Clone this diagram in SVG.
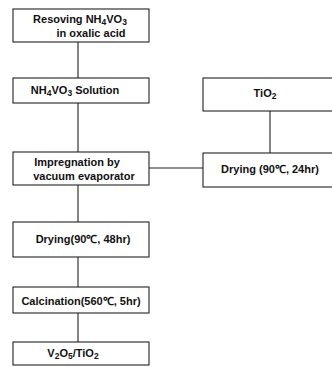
<svg xmlns="http://www.w3.org/2000/svg" width="332" height="367" viewBox="0 0 332 367">
<style>
.box{fill:#fff;stroke:#222;stroke-width:1.1}
.ln{stroke:#222;stroke-width:1.1;fill:none}
text{font-family:"Liberation Sans",Arial,sans-serif;font-weight:bold;font-size:11px;fill:#111;text-anchor:middle}
.sub{font-size:8.5px}
</style>
<rect width="332" height="367" fill="#fff"/>
<g id="connectors">
<line class="ln" x1="78" y1="42" x2="78" y2="78"/>
<line class="ln" x1="78" y1="103" x2="78" y2="152"/>
<line class="ln" x1="78" y1="185" x2="78" y2="222"/>
<line class="ln" x1="78" y1="257" x2="78" y2="287"/>
<line class="ln" x1="78" y1="313" x2="78" y2="342"/>
<line class="ln" x1="270" y1="111" x2="270" y2="153"/>
<line class="ln" x1="149" y1="168" x2="203" y2="168"/>
</g>
<g id="n1">
<rect class="box" x="13" y="9" width="136" height="33"/>
<text x="80" y="23">Resoving NH<tspan class="sub" dy="2">4</tspan><tspan dy="-2">VO</tspan><tspan class="sub" dy="2">3</tspan></text>
<text x="91" y="37">in oxalic acid</text>
</g>
<g id="n2">
<rect class="box" x="13" y="78" width="136" height="25"/>
<text x="75" y="94">NH<tspan class="sub" dy="2">4</tspan><tspan dy="-2">VO</tspan><tspan class="sub" dy="2">3</tspan><tspan dy="-2"> Solution</tspan></text>
</g>
<g id="n3">
<rect class="box" x="13" y="152" width="136" height="33"/>
<text x="77" y="166">Impregnation by</text>
<text x="84" y="180">vacuum evaporator</text>
</g>
<g id="n4">
<rect class="box" x="13" y="222" width="136" height="35"/>
<text x="83" y="243">Drying(90℃, 48hr)</text>
</g>
<g id="n5">
<rect class="box" x="13" y="287" width="136" height="26"/>
<text x="81" y="305">Calcination(560℃, 5hr)</text>
</g>
<g id="n6">
<rect class="box" x="13" y="342" width="136" height="23"/>
<text x="73" y="357">V<tspan class="sub" dy="2">2</tspan><tspan dy="-2">O</tspan><tspan class="sub" dy="2">5</tspan><tspan dy="-2">/TiO</tspan><tspan class="sub" dy="2">2</tspan></text>
</g>
<g id="n7">
<rect class="box" x="203" y="78" width="140" height="33"/>
<text x="265" y="97">TiO<tspan class="sub" dy="2">2</tspan></text>
</g>
<g id="n8">
<rect class="box" x="203" y="153" width="140" height="34"/>
<text x="270" y="173">Drying (90℃, 24hr)</text>
</g>
</svg>
